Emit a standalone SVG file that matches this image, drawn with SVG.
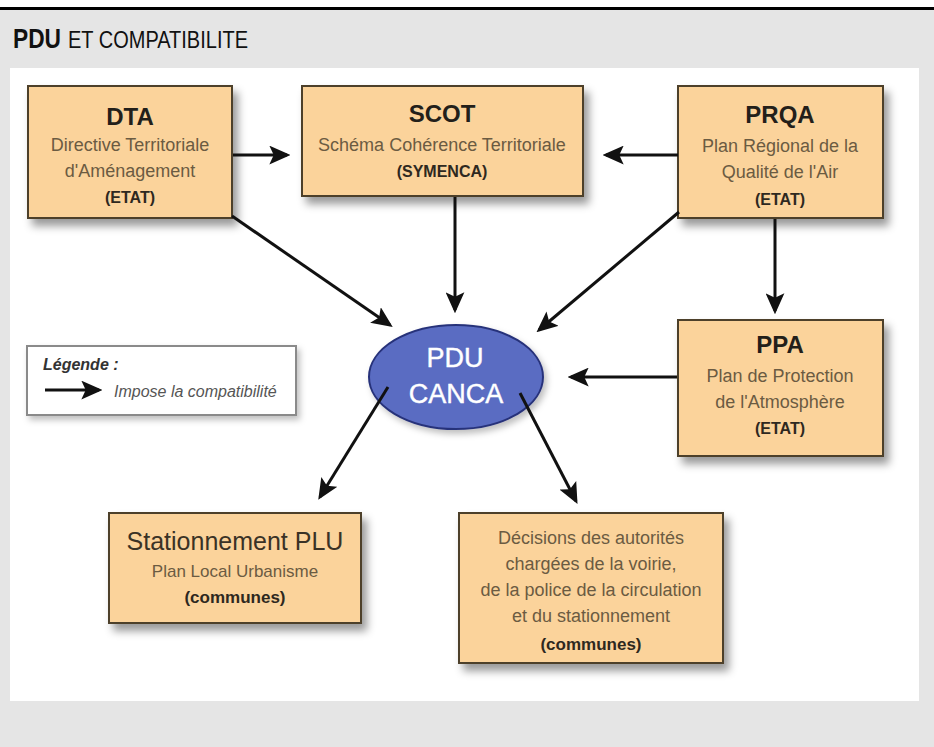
<svg xmlns="http://www.w3.org/2000/svg" width="934" height="747" viewBox="0 0 934 747">
<style>
.box{fill:#fbd39b;stroke:#4d3f2c;stroke-width:2}
.t{font-family:"Liberation Sans",Arial,sans-serif;text-anchor:middle}
.h{font-size:24px;font-weight:bold;fill:#231f1a}
.s{font-size:18px;fill:#6b5b42}
.b{font-size:16px;font-weight:bold;fill:#2e2820}
.c{stroke:#111;stroke-width:3;fill:none;marker-end:url(#ah)}
</style>
<defs>
<marker id="ah" markerUnits="userSpaceOnUse" markerWidth="21" markerHeight="19" viewBox="0 0 19 17" refX="16" refY="8.5" orient="auto">
<path d="M0,0 L19,8.5 L0,17 L4,8.5 z" fill="#111"/>
</marker>
<filter id="sh" x="-10%" y="-10%" width="130%" height="140%">
<feDropShadow dx="5" dy="7" stdDeviation="4" flood-color="#000" flood-opacity="0.4"/>
</filter>
<filter id="sh2" x="-10%" y="-10%" width="130%" height="140%">
<feDropShadow dx="3" dy="4" stdDeviation="3" flood-color="#000" flood-opacity="0.25"/>
</filter>
</defs>
<rect x="0" y="0" width="934" height="747" fill="#e5e5e5"/>
<rect x="0" y="0" width="934" height="7" fill="#fff"/>
<rect x="0" y="7" width="934" height="3" fill="#000"/>
<g id="title">
<text x="13" y="48" font-family="'Liberation Sans Narrow','Liberation Sans',Arial,sans-serif" font-size="28" font-weight="bold" fill="#111" textLength="48" lengthAdjust="spacingAndGlyphs">PDU</text>
<text x="68" y="48" font-family="'Liberation Sans Narrow','Liberation Sans',Arial,sans-serif" font-size="23" fill="#111" textLength="180" lengthAdjust="spacingAndGlyphs">ET COMPATIBILITE</text>
</g>
<rect x="10" y="68" width="909" height="633" fill="#fff"/>

<g id="dta">
<rect class="box" x="28" y="86" width="204" height="132" filter="url(#sh)"/>
<text class="t h" x="130" y="125">DTA</text>
<text class="t s" x="130" y="151">Directive Territoriale</text>
<text class="t s" x="130" y="177">d'Aménagement</text>
<text class="t b" x="130" y="203">(ETAT)</text>
</g>
<g id="scot">
<rect class="box" x="302" y="86" width="281" height="110" filter="url(#sh)"/>
<text class="t h" x="442" y="122">SCOT</text>
<text class="t s" x="442" y="151">Schéma Cohérence Territoriale</text>
<text class="t b" x="442" y="177">(SYMENCA)</text>
</g>
<g id="prqa">
<rect class="box" x="678" y="86" width="205" height="132" filter="url(#sh)"/>
<text class="t h" x="780" y="123">PRQA</text>
<text class="t s" x="780" y="152">Plan Régional de la</text>
<text class="t s" x="780" y="178">Qualité de l'Air</text>
<text class="t b" x="780" y="205">(ETAT)</text>
</g>
<g id="ppa">
<rect class="box" x="678" y="320" width="205" height="136" filter="url(#sh)"/>
<text class="t h" x="780" y="353">PPA</text>
<text class="t s" x="780" y="382">Plan de Protection</text>
<text class="t s" x="780" y="408">de l'Atmosphère</text>
<text class="t b" x="780" y="434">(ETAT)</text>
</g>
<g id="pdu">
<ellipse cx="456" cy="377" rx="87" ry="52" fill="#5a6cc2" stroke="#28327a" stroke-width="2" filter="url(#sh2)"/>
<text class="t" x="455" y="367" font-size="27" fill="#fff" stroke="#fff" stroke-width="0.4">PDU</text>
<text class="t" x="456" y="403" font-size="27" fill="#fff" stroke="#fff" stroke-width="0.4">CANCA</text>
</g>
<g id="legend">
<rect x="27" y="346" width="269" height="69" fill="#fff" stroke="#8a8a8a" stroke-width="2" filter="url(#sh2)"/>
<text x="43" y="370" font-family="'Liberation Sans',Arial,sans-serif" font-size="16" font-weight="bold" font-style="italic" fill="#333">Légende :</text>
<line x1="45" y1="390" x2="99" y2="390" stroke="#111" stroke-width="3" marker-end="url(#ah)"/>
<text x="114" y="397" font-family="'Liberation Sans',Arial,sans-serif" font-size="16" font-style="italic" fill="#555">Impose la compatibilité</text>
</g>
<g id="plu">
<rect class="box" x="109" y="513" width="252" height="110" filter="url(#sh)"/>
<text class="t" x="235" y="550" font-size="25" fill="#3a3226">Stationnement PLU</text>
<text class="t s" x="235" y="577" style="font-size:17px">Plan Local Urbanisme</text>
<text class="t b" x="235" y="603" style="font-size:17px">(communes)</text>
</g>
<g id="decisions">
<rect class="box" x="459" y="513" width="264" height="150" filter="url(#sh)"/>
<text class="t s" x="591" y="544">Décisions des autorités</text>
<text class="t s" x="591" y="570">chargées de la voirie,</text>
<text class="t s" x="591" y="596">de la police de la circulation</text>
<text class="t s" x="591" y="622">et du stationnement</text>
<text class="t b" x="591" y="650" style="font-size:17px">(communes)</text>
</g>

<g id="connectors">
<line class="c" x1="233" y1="155" x2="287" y2="155"/>
<line class="c" x1="678" y1="155" x2="606" y2="155"/>
<line class="c" x1="232" y1="216" x2="390" y2="325"/>
<line class="c" x1="455" y1="197" x2="455" y2="310"/>
<line class="c" x1="679" y1="212" x2="539" y2="330"/>
<line class="c" x1="775" y1="219" x2="775" y2="311"/>
<line class="c" x1="677" y1="377" x2="571" y2="377"/>
<line class="c" x1="388" y1="387" x2="320" y2="497"/>
<line class="c" x1="520" y1="393" x2="576" y2="501"/>
</g>
</svg>
